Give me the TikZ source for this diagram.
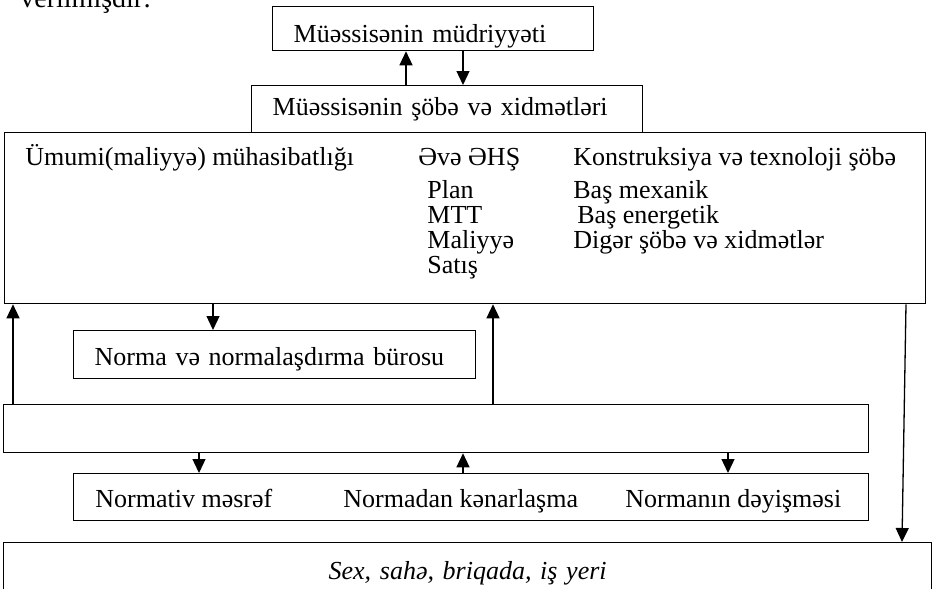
\documentclass[tikz,border=0pt]{standalone}
\usepackage{fontspec}
\setmainfont{Liberation Serif}
\usepackage{tikz}
\usetikzlibrary{arrows.meta}

\begin{document}
\begin{tikzpicture}[
    x=0.5pt, y=-0.5pt,
    box/.style={rectangle, draw, line width=0.65pt, anchor=north west, align=left, inner xsep=10.5pt, inner ysep=0pt, text height=14pt, text depth=3pt, font=\fontsize{13pt}{15pt}\selectfont},
    blank/.style={rectangle, draw, line width=0.65pt, anchor=north west, inner sep=0pt},
    txt/.style={anchor=base west, inner sep=0pt, font=\fontsize{13pt}{15pt}\selectfont},
    arrow/.style={-{Triangle[length=7pt, width=6.5pt]}, line width=0.65pt}
]
\useasboundingbox (0,0) rectangle (933,589);

\node[txt, font=\fontsize{14pt}{16pt}\selectfont] (verilmis) at (20,7) {verilmişdir:};

\node[box, text width=139.5pt, minimum height=22pt, text height=17pt] (mudir) at (272,6) {Müəssisənin müdriyyəti};
\node[box, text width=174.5pt, minimum height=23.5pt, text height=9.5pt] (sobe) at (251,85) {Müəssisənin şöbə və xidmətləri};

% boyuk blok: sobe ve xidmetler
\node[blank, minimum width=460.5pt, minimum height=85.5pt] (big) at (4,132) {};
\node[txt] (muhasib) at (25,165) {Ümumi(maliyyə) mühasibatlığı};
\node[txt] (eve) at (418,165) {Əvə ƏHŞ};
\node[txt] (plan) at (427,198) {Plan};
\node[txt] (mtt) at (427,223) {MTT};
\node[txt] (maliyye) at (427,248) {Maliyyə};
\node[txt] (satis) at (427,273) {Satış};
\node[txt] (konstr) at (573,165) {Konstruksiya və texnoloji şöbə};
\node[txt] (mexanik) at (573,198) {Baş mexanik};
\node[txt] (energetik) at (577,223) {Baş energetik};
\node[txt] (diger) at (573,248) {Digər şöbə və xidmətlər};

\node[box, text width=180pt, minimum height=24pt] (norma) at (73,330) {Norma və normalaşdırma bürosu};
\node[blank, minimum width=432.5pt, minimum height=24pt] (wide) at (3,404) {};

\node[blank, minimum width=397.5pt, minimum height=23.5pt] (normativ) at (73,473) {};
\node[txt] (mesref) at (95,507) {Normativ məsrəf};
\node[txt] (kenar) at (343,507) {Normadan kənarlaşma};
\node[txt] (deyis) at (625,507) {Normanın dəyişməsi};

\node[box, align=center, text width=443pt, minimum height=26pt, font=\fontsize{13pt}{15pt}\selectfont\itshape] (sex) at (3,542) {Sex, sahə, briqada, iş yeri};

\draw[arrow] ([xshift=77.5pt]sobe.north west) -- ([xshift=67pt]mudir.south west);
\draw[arrow] ([xshift=95.5pt]mudir.south west) -- ([xshift=106pt]sobe.north west);
\draw[arrow] ([xshift=5pt]wide.north west) -- ([xshift=4.5pt]big.south west);
\draw[arrow] ([xshift=104.5pt]big.south west) -- ([xshift=70pt]norma.north west);
\draw[arrow] ([xshift=245pt]wide.north west) -- ([xshift=244.5pt]big.south west);
\draw[arrow] ([xshift=451pt]big.south west) -- ([xshift=449.5pt]sex.north west);
\draw[arrow] ([xshift=98pt]wide.south west) -- ([xshift=63pt]normativ.north west);
\draw[arrow] ([xshift=195pt]normativ.north west) -- ([xshift=230pt]wide.south west);
\draw[arrow] ([xshift=362.5pt]wide.south west) -- ([xshift=327.5pt]normativ.north west);
\end{tikzpicture}
\end{document}
